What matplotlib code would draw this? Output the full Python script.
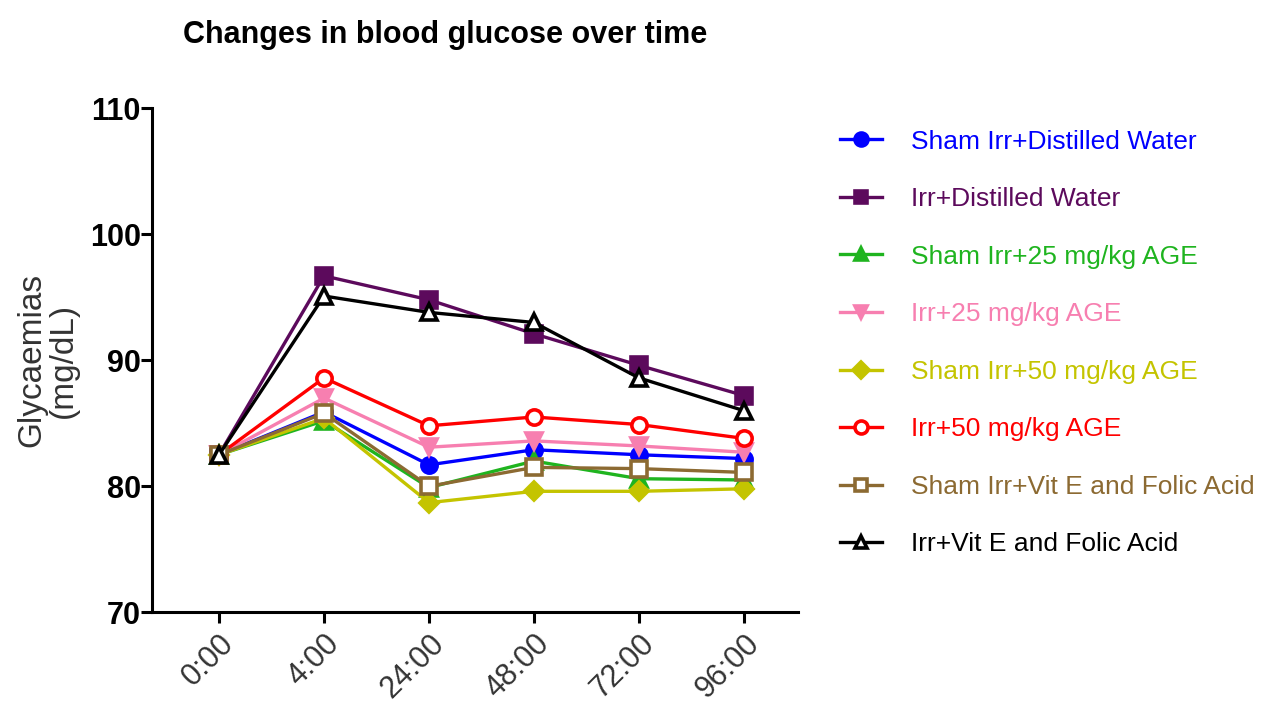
import matplotlib
matplotlib.use('Agg')
import matplotlib.pyplot as plt

times = ['0:00', '4:00', '24:00', '48:00', '72:00', '96:00']

sham_dw = [82.5, 85.9, 81.7, 82.9, 82.5, 82.2]
irr_dw = [82.5, 96.7, 94.8, 92.1, 89.6, 87.2]
sham_25 = [82.5, 85.2, 79.9, 82.0, 80.6, 80.5]
irr_25 = [82.5, 87.0, 83.1, 83.6, 83.2, 82.7]
sham_50 = [82.5, 85.4, 78.7, 79.6, 79.6, 79.8]
irr_50 = [82.5, 88.6, 84.8, 85.5, 84.9, 83.8]
sham_vit = [82.5, 85.8, 80.0, 81.5, 81.4, 81.1]
irr_vit = [82.5, 95.1, 93.8, 93.0, 88.6, 86.0]

labels = ['Sham Irr+Distilled Water', 'Irr+Distilled Water', 'Sham Irr+25 mg/kg AGE',
          'Irr+25 mg/kg AGE', 'Sham Irr+50 mg/kg AGE', 'Irr+50 mg/kg AGE',
          'Sham Irr+Vit E and Folic Acid', 'Irr+Vit E and Folic Acid']
series = [sham_dw, irr_dw, sham_25, irr_25, sham_50, irr_50, sham_vit, irr_vit]
colors = ['#0000ff', '#5c0a5c', '#1fb41f', '#f77fb0', '#c4c400', '#ff0000', '#8c6a32', '#000000']
markers = ['o', 's', '^', 'v', 'D', 'o', 's', '^']
filled = [True, True, True, True, True, False, False, False]

plt.rcParams['font.family'] = ['Liberation Sans', 'DejaVu Sans']

fig = plt.figure(figsize=(12.76, 7.22), dpi=100)
ax = fig.add_axes([0.119, 0.152, 0.506, 0.698])

x = list(range(len(times)))
handles = []
for vals, lab, c, m, f in zip(series, labels, colors, markers, filled):
    ms = 9 if m == 'D' else 11
    h, = ax.plot(x, vals, color=c, lw=2.4, marker=m, ms=ms,
                 mfc=c if f else 'white', mec=c, mew=2.6, label=lab)
    handles.append(h)

ax.set_xlim(-0.64, 5.51)
ax.set_ylim(70, 110)
ax.set_yticks([70, 80, 90, 100, 110])
ax.set_xticks(x)
ax.set_xticklabels(times, rotation=45, ha='right', rotation_mode='anchor',
                   fontsize=22, color='#333333')
for t in ax.get_yticklabels():
    t.set_fontsize(22)
    t.set_fontweight('bold')
ax.spines['top'].set_visible(False)
ax.spines['right'].set_visible(False)
for s in ['left', 'bottom']:
    ax.spines[s].set_linewidth(2.2)
ax.tick_params(axis='both', width=2.2, length=8, direction='out')
ax.tick_params(axis='x', pad=4)
ax.tick_params(axis='y', pad=0)

ax.set_ylabel('Glycaemias\n(mg/dL)', fontsize=24, color='#333333', labelpad=8,
              linespacing=1.0)
fig.text(0.349, 0.952, 'Changes in blood glucose over time', fontsize=22,
         fontweight='bold', ha='center', va='center')

leg = fig.legend(handles=handles, loc='upper left', bbox_to_anchor=(0.65, 0.835),
                 frameon=False, fontsize=19, handlelength=1.6, handletextpad=1.1,
                 labelspacing=1.27, borderaxespad=0, markerscale=0.85)
for t, c in zip(leg.get_texts(), colors):
    t.set_color(c)

fig.savefig('out.png', dpi=100)
